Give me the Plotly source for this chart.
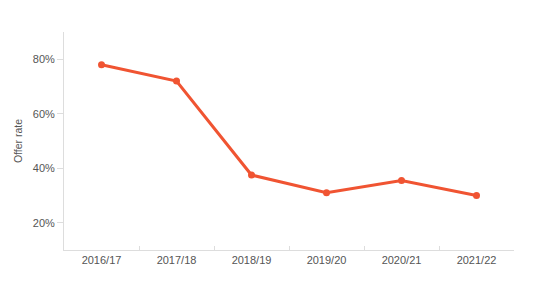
import plotly.graph_objects as go

years = ["2016/17", "2017/18", "2018/19", "2019/20", "2020/21", "2021/22"]
offer_rate = [78, 72, 37.5, 31, 35.5, 30]

fig = go.Figure()
fig.add_trace(go.Scatter(
    x=years, y=offer_rate, mode="lines+markers",
    line=dict(color="#F05432", width=3),
    marker=dict(color="#F05432", size=7),
    hoverinfo="skip",
))

font_family = "Liberation Sans, Arial, sans-serif"
fig.update_layout(
    width=535, height=298,
    margin=dict(l=64, r=21, t=32, b=48),
    paper_bgcolor="white", plot_bgcolor="white",
    showlegend=False,
    font=dict(family=font_family, size=11, color="#555555"),
    xaxis=dict(
        type="category",
        showgrid=False,
        showline=True, linecolor="#dddddd", linewidth=1,
        ticks="inside", tickson="boundaries", ticklen=4, tickcolor="#dddddd",
        tickfont=dict(size=11, color="#555555"),
        range=[-0.5, 5.5],
        zeroline=False,
    ),
    yaxis=dict(
        range=[10, 90],
        tickvals=[20, 40, 60, 80],
        ticktext=["20%", "40%", "60%", "80%"],
        showgrid=False,
        showline=True, linecolor="#dddddd", linewidth=1,
        ticks="outside", ticklen=6, tickcolor="#dddddd",
        tickfont=dict(size=11, color="#555555"),
        title=dict(text="Offer rate", font=dict(size=10.5, color="#555555"), standoff=8),
        zeroline=False,
    ),
)

fig.write_html("out.html")
